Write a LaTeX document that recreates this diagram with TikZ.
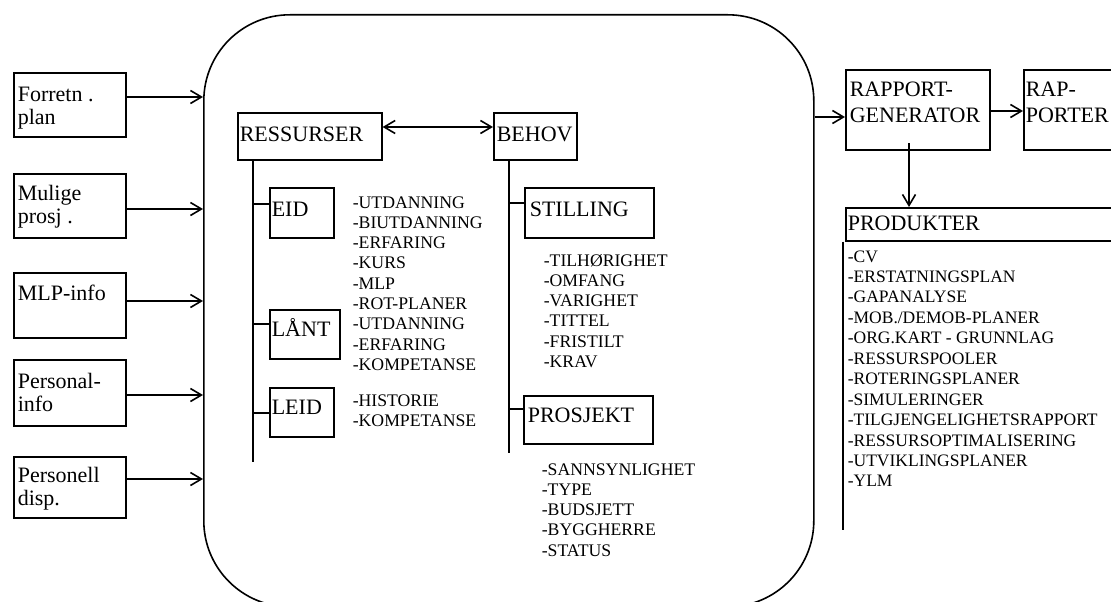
\documentclass[tikz,border=0pt]{standalone}
\usepackage{fontspec}
\setmainfont{Liberation Serif}
\usetikzlibrary{arrows.meta}
\newcommand\bigf{\fontsize{22}{23.5}\selectfont}
\newcommand\itemf{\fontsize{17.7}{20.3}\selectfont}
\newcommand\lines[1]{\parbox[t]{300pt}{\raggedright #1}}
\begin{document}
\begin{tikzpicture}[x=1pt,y=-1pt,
  line width=1.6pt,
  box/.style={draw, inner sep=0pt, anchor=north west},
  lbl/.style={inner sep=0pt, anchor=base west, font=\bigf},
  itm/.style={inner sep=0pt, anchor=base west, font=\itemf},
  arr/.style={-{Straight Barb[length=11pt,width=13pt]}},
  darr/.style={{Straight Barb[length=11pt,width=13pt]}-{Straight Barb[length=11pt,width=13pt]}}]
\useasboundingbox (0,0) rectangle (1111,602);

% central area
\node[box, rounded corners=86pt, minimum width=610pt, minimum height=592pt] (core) at (203,14) {};

% input boxes on the left
\node[box, minimum width=112pt, minimum height=64pt] (forretn) at (13,72) {};
\node[lbl] (forretnT) at (17,101) {\lines{Forretn .\\plan}};
\node[box, minimum width=112pt, minimum height=64pt] (mulige) at (13,173) {};
\node[lbl] (muligeT) at (17,200) {\lines{Mulige\\prosj .}};
\node[box, minimum width=112pt, minimum height=65pt] (mlp) at (13,272) {};
\node[lbl] (mlpT) at (17,300) {\lines{MLP-info}};
\node[box, minimum width=112pt, minimum height=66pt] (pinfo) at (13,359) {};
\node[lbl] (pinfoT) at (17,388) {\lines{Personal-\\info}};
\node[box, minimum width=112pt, minimum height=61pt] (pdisp) at (13,456) {};
\node[lbl] (pdispT) at (17,482) {\lines{Personell\\disp.}};

\draw[arr] (forretn.east |- 0,97) -- (core.west |- 0,97);
\draw[arr] (mulige.east |- 0,209) -- (core.west |- 0,209);
\draw[arr] (mlp.east |- 0,301) -- (core.west |- 0,301);
\draw[arr] (pinfo.east |- 0,395) -- (core.west |- 0,395);
\draw[arr] (pdisp.east |- 0,479) -- (core.west |- 0,479);

% resources
\node[box, minimum width=144pt, minimum height=47pt] (ress) at (237,112) {};
\node[lbl] (ressT) at (239,141) {RESSURSER};
\node[box, minimum width=83pt, minimum height=47pt] (behov) at (493,112) {};
\node[lbl] (behovT) at (496,141) {BEHOV};
\draw[darr] (ress.east |- 0,127) -- (behov.west |- 0,127);

\coordinate (rend) at (253,462);
\draw (ress.south -| rend) -- (rend);
\node[box, minimum width=64pt, minimum height=50pt] (eid) at (269,187) {};
\node[lbl] (eidT) at (271,216) {EID};
\node[box, minimum width=70pt, minimum height=49pt] (laant) at (269,309) {};
\node[lbl] (laantT) at (271,336) {LÅNT};
\node[box, minimum width=64pt, minimum height=49pt] (leid) at (269,387) {};
\node[lbl] (leidT) at (271,414) {LEID};
\draw (rend |- 0,204) -- (eid.west |- 0,204);
\draw (rend |- 0,324) -- (laant.west |- 0,324);
\draw (rend |- 0,413) -- (leid.west |- 0,413);

\node[itm] (eidL) at (352,208) {\lines{-UTDANNING\\-BIUTDANNING\\-ERFARING\\-KURS\\-MLP\\-ROT-PLANER\\-UTDANNING\\-ERFARING\\-KOMPETANSE}};
\node[itm] (leidL) at (352,406) {\lines{-HISTORIE\\-KOMPETANSE}};

% needs
\coordinate (bend) at (509,453);
\draw (behov.south -| bend) -- (bend);
\node[box, minimum width=129pt, minimum height=50pt] (still) at (524,187) {};
\node[lbl] (stillT) at (529,216) {STILLING};
\node[box, minimum width=129pt, minimum height=48pt] (prosj) at (523,395) {};
\node[lbl] (prosjT) at (527,422) {PROSJEKT};
\draw (bend |- 0,203) -- (still.west |- 0,203);
\draw (bend |- 0,409) -- (prosj.west |- 0,409);

\node[itm] (stillL) at (543,266) {\lines{-TILHØRIGHET\\-OMFANG\\-VARIGHET\\-TITTEL\\-FRISTILT\\-KRAV}};
\node[itm] (prosjL) at (541,475) {\lines{-SANNSYNLIGHET\\-TYPE\\-BUDSJETT\\-BYGGHERRE\\-STATUS}};

% reporting
\node[box, minimum width=144pt, minimum height=80pt] (gen) at (845,69) {};
\node[lbl] (genT) at (849,96) {\fontsize{22}{26}\selectfont\lines{RAPPORT-\\GENERATOR}};
\node[box, minimum width=100pt, minimum height=80pt] (rapp) at (1023,69) {};
\node[lbl] (rappT) at (1025,96) {\fontsize{22}{26}\selectfont\lines{RAP-\\PORTER}};
\draw[arr] (core.east |- 0,117) -- (gen.west |- 0,117);
\draw[arr] (gen.east |- 0,111) -- (rapp.west |- 0,111);

\node[box, minimum width=280pt, minimum height=33pt] (prod) at (845,207) {};
\node[lbl] (prodT) at (847,230) {PRODUKTER};
\draw[arr] (909,143) -- (prod.north -| 909,0);
\draw (prod.south west) ++(-2,0) coordinate (plist) -- (plist |- 0,530);
\node[itm] (prodL) at (847,262) {\fontsize{17.5}{20.45}\selectfont\lines{-CV\\-ERSTATNINGSPLAN\\-GAPANALYSE\\-MOB./DEMOB-PLANER\\-ORG.KART - GRUNNLAG\\-RESSURSPOOLER\\-ROTERINGSPLANER\\-SIMULERINGER\\-TILGJENGELIGHETSRAPPORT\\-RESSURSOPTIMALISERING\\-UTVIKLINGSPLANER\\-YLM}};
\end{tikzpicture}
\end{document}
